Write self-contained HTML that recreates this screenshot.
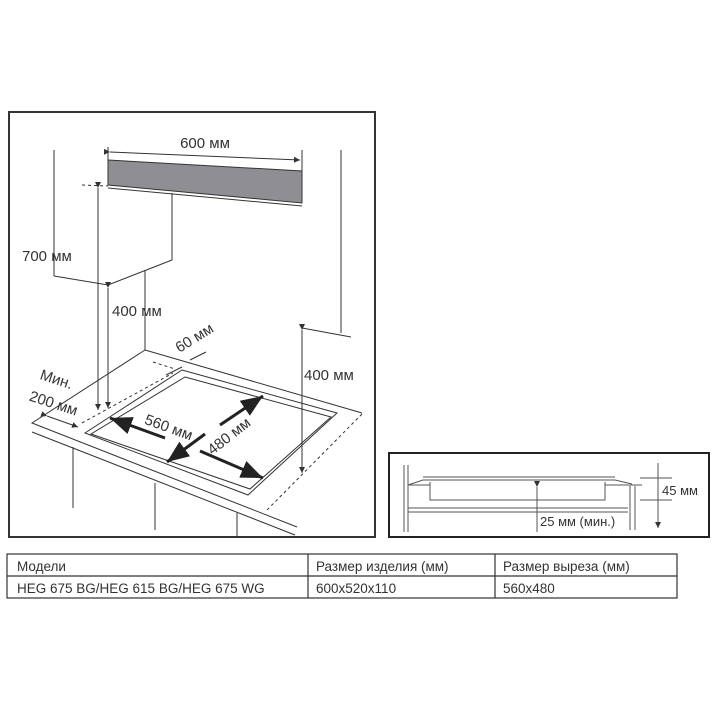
<!DOCTYPE html>
<html><head><meta charset="utf-8"><style>
html,body{margin:0;padding:0;background:#fff;width:720px;height:720px;overflow:hidden}
svg{display:block}
text{font-family:"Liberation Sans",sans-serif;fill:#333}
</style></head><body>
<svg width="720" height="720" viewBox="0 0 720 720">
<defs>
<marker id="a" markerWidth="6" markerHeight="6" refX="6" refY="3" orient="auto" markerUnits="userSpaceOnUse"><path d="M0,0L6,3L0,6z" fill="#333"/></marker>
<marker id="b" markerWidth="22" markerHeight="18" refX="22" refY="9" orient="auto" markerUnits="userSpaceOnUse"><path d="M0,0L22,9L0,18z" fill="#222"/></marker>
</defs>
<g stroke="#333" stroke-width="1" fill="none">
<rect x="9" y="112" width="366" height="425" stroke-width="2"/>
<!-- hood -->
<path d="M108,160L302,171L302,203L108,185Z" fill="#8f8f93" stroke="#333"/>
<line x1="108" y1="188" x2="302" y2="206"/>
<line x1="110" y1="152" x2="300" y2="160" marker-start="url(#a)" marker-end="url(#a)"/>
<line x1="108" y1="147" x2="108" y2="160"/>
<line x1="302" y1="150" x2="302" y2="171"/>
<!-- left cabinet -->
<line x1="54" y1="150" x2="54" y2="276"/>
<path d="M54,276L108,285L172,260L172,193"/>
<line x1="145" y1="270" x2="145" y2="350"/>
<line x1="82" y1="185" x2="108" y2="186" stroke-dasharray="3,3"/>
<line x1="98" y1="188" x2="98" y2="410" marker-start="url(#a)" marker-end="url(#a)"/>
<line x1="108" y1="288" x2="108" y2="408" marker-start="url(#a)" marker-end="url(#a)"/>
<!-- right wall -->
<line x1="341" y1="150" x2="341" y2="333"/>
<line x1="302" y1="328" x2="351" y2="337"/>
<line x1="302" y1="330" x2="302" y2="473" marker-start="url(#a)" marker-end="url(#a)"/>
<!-- counter -->
<path d="M145,350L362,413"/>
<path d="M145,350L32,423L297,527"/>
<path d="M32,432L295,535"/>
<line x1="362" y1="414" x2="267" y2="510" stroke-dasharray="3,3"/>
<line x1="82" y1="423" x2="173" y2="373" stroke-dasharray="3,3"/>
<line x1="153" y1="362" x2="175" y2="369" stroke-dasharray="3,3"/>
<line x1="47" y1="416" x2="78" y2="427" marker-start="url(#a)" marker-end="url(#a)"/>
<line x1="166" y1="375" x2="182" y2="367"/>
<line x1="190" y1="360" x2="206" y2="352"/>
<!-- cutout -->
<path d="M182,370L337,413L248,495L85,433Z"/>
<path d="M185,377L331,417L250,489L91,434Z"/>
<!-- legs -->
<line x1="73" y1="447" x2="73" y2="508"/>
<line x1="155" y1="483" x2="155" y2="530"/>
<line x1="237" y1="513" x2="237" y2="537"/>
<!-- big arrows -->
<line x1="165" y1="438" x2="110" y2="418" stroke-width="3" stroke="#222" marker-end="url(#b)"/>
<line x1="200" y1="451" x2="263" y2="478" stroke-width="3" stroke="#222" marker-end="url(#b)"/>
<line x1="205" y1="434" x2="167" y2="462" stroke-width="3" stroke="#222" marker-end="url(#b)"/>
<line x1="220" y1="425" x2="263" y2="396" stroke-width="3" stroke="#222" marker-end="url(#b)"/>
</g>
<g font-size="15">
<text x="205" y="148" text-anchor="middle">600 мм</text>
<text x="22" y="261">700 мм</text>
<text x="112" y="316">400 мм</text>
<text x="304" y="380">400 мм</text>
<text transform="translate(197,342) rotate(-32)" text-anchor="middle">60 мм</text>
<text transform="translate(55,384) rotate(18)" text-anchor="middle">Мин.</text>
<text transform="translate(52,408) rotate(18)" text-anchor="middle">200 мм</text>
<text transform="translate(167,432) rotate(20)" text-anchor="middle">560 мм</text>
<text transform="translate(232,440) rotate(-38)" text-anchor="middle">480 мм</text>
</g>
<!-- side view -->
<g stroke="#555" stroke-width="1" fill="none">
<rect x="389" y="453" width="320" height="84" stroke="#222" stroke-width="2"/>
<line x1="404" y1="465" x2="404" y2="532"/><line x1="408" y1="465" x2="408" y2="532"/>
<path d="M408,485L423,480L615,480L632,484"/>
<line x1="423" y1="477" x2="615" y2="477"/>
<path d="M430,482L430,500L605,500L605,482"/>
<line x1="408" y1="508" x2="628" y2="508"/><line x1="408" y1="512" x2="628" y2="512"/>
<line x1="408" y1="485" x2="430" y2="485"/><line x1="605" y1="485" x2="642" y2="485"/>
<line x1="630" y1="486" x2="630" y2="530"/><line x1="635" y1="486" x2="635" y2="530"/>
<line x1="537" y1="487" x2="537" y2="532" marker-start="url(#a)"/>
<line x1="658" y1="463" x2="658" y2="528" marker-end="url(#a)"/>
<line x1="640" y1="478" x2="672" y2="478"/><line x1="640" y1="500" x2="672" y2="500"/>
</g>
<text x="540" y="526" font-size="13">25 мм (мин.)</text>
<text x="662" y="495" font-size="13">45 мм</text>
<!-- table -->
<g stroke="#333" stroke-width="1.2" fill="none">
<rect x="7" y="554" width="670" height="44"/>
<line x1="7" y1="576" x2="677" y2="576"/>
<line x1="308" y1="554" x2="308" y2="598"/>
<line x1="495" y1="554" x2="495" y2="598"/>
</g>
<g font-size="13.5">
<text x="17" y="571">Модели</text>
<text x="316" y="571">Размер изделия (мм)</text>
<text x="503" y="571">Размер выреза (мм)</text>
<text x="17" y="593">HEG 675 BG/HEG 615 BG/HEG 675 WG</text>
<text x="316" y="593">600x520x110</text>
<text x="503" y="593">560x480</text>
</g>
</svg>
</body></html>
